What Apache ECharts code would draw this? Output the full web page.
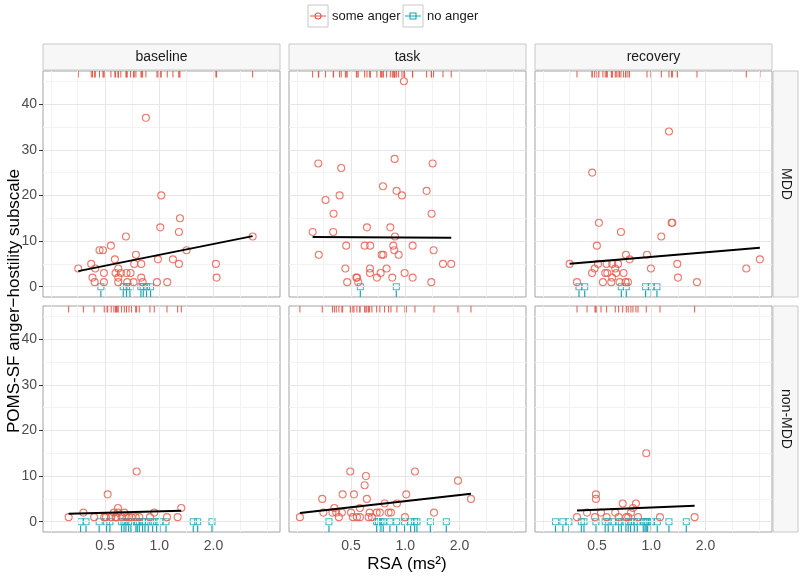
<!DOCTYPE html>
<html><head><meta charset="utf-8">
<script src="https://cdn.jsdelivr.net/npm/echarts@6/dist/echarts.min.js"></script>
<style>html,body{margin:0;padding:0;background:#fff}#c{width:800px;height:578px}</style>
</head><body><div id="c"></div>
<script>
// ---------------- data ----------------
const phases = ['baseline', 'task', 'recovery'];
const groups = ['MDD', 'non-MDD'];
const seriesNames = ['some anger', 'no anger'];
const xTickValues = [0.5, 1, 2];
const yTickValues = [0, 10, 20, 30, 40];
const xGridMajor = [0.5, 1, 2];
const xGridMinor = [0.25, 0.3536, 0.7071, 1.4142, 2.8284, 4];
const yGridMajor = [0, 10, 20, 30, 40];
const yGridMinor = [5, 15, 25, 35, 45];

// [RSA (ms^2), POMS-SF anger-hostility]
const mddBaselineAnger = [[0.355,4],[0.419,5],[0.441,4],[0.426,2],[0.438,1],[0.466,8],[0.487,8],[0.493,3],[0.493,1],[0.539,9],[0.567,6],[0.572,3],[0.592,4],[0.592,2],[0.592,1],[0.612,3],[0.653,11],[0.658,3],[0.664,1],[0.693,3],[0.72,1],[0.726,5],[0.742,7],[0.794,5],[0.794,2],[0.808,1],[0.843,37],[0.971,1],[0.983,6],[1.013,13],[1.026,20],[1.108,1],[1.191,6],[1.286,12],[1.286,5],[1.303,15],[1.418,8],[2.064,5],[2.082,2],[3.30,11]];
const mddBaselineNoAnger = [0.474,0.631,0.658,0.687,0.791,0.815,0.85,0.895];
const mddBaselineFit = [[0.355,3.42],[3.30,11.08]];

const mddTaskAnger = [[0.983,45],[0.329,27],[0.441,26],[0.873,28],[1.419,27],[0.752,22],[0.895,21],[0.959,20],[1.314,21],[0.361,19],[0.432,20],[0.40,16],[1.401,16],[0.306,12],[0.398,12],[0.613,13],[0.826,13],[0.877,11],[0.47,9],[0.595,9],[0.639,9],[0.858,9],[1.099,9],[0.331,7],[0.739,7],[0.755,7],[0.869,8],[0.919,7],[1.437,8],[1.62,5],[1.80,5],[0.465,4],[0.637,4],[0.788,4],[0.637,3],[0.73,3],[0.992,3],[0.535,2],[0.54,2],[0.696,2],[0.847,2],[1.099,2],[0.476,1],[0.548,1],[1.395,1]];
const mddTaskNoAnger = [0.563,0.892];
const mddTaskFit = [[0.306,10.87],[1.80,10.72]];

const mddRecoveryAnger = [[1.254,34],[0.47,25],[0.512,14],[1.297,14],[1.31,14],[0.679,12],[1.137,11],[0.499,9],[0.723,7],[0.947,7],[0.758,6],[4.01,6],[0.352,5],[0.506,5],[0.565,5],[0.607,5],[0.654,5],[1.395,5],[0.485,4],[0.631,4],[0.996,4],[3.37,4],[0.469,3],[0.555,3],[0.57,3],[0.639,3],[0.702,3],[0.607,2],[1.407,2],[0.387,1],[0.539,1],[0.6,1],[0.667,1],[0.72,1],[0.742,1],[1.794,1]];
const mddRecoveryNoAnger = [0.397,0.427,0.682,0.727,0.930,1.0,1.075];
const mddRecoveryFit = [[0.352,5.03],[4.01,8.53]];

const nonBaselineAnger = [[0.314,1],[0.379,2],[0.435,1],[0.517,6],[0.495,1],[0.506,1],[0.541,1],[0.56,2],[0.572,1],[0.579,1],[0.59,3],[0.59,2],[0.618,1],[0.64,2],[0.658,1],[0.679,1],[0.702,1],[0.749,11],[0.74,1],[0.775,1],[0.888,1],[0.938,2],[1.104,1],[1.265,1],[1.325,3]];
const nonBaselineNoAnger = [0.366,0.392,0.464,0.510,0.532,0.618,0.637,0.653,0.676,0.696,0.742,0.755,0.775,0.808,0.833,0.869,0.919,0.967,1.009,1.09,1.545,1.634,1.962];
const nonBaselineFit = [[0.314,1.74],[1.325,2.4]];

const nonTaskAnger = [[0.26,1],[0.346,5],[0.351,2],[0.394,2],[0.404,3],[0.414,2],[0.428,1],[0.445,2],[0.449,6],[0.495,11],[0.5,2],[0.512,1],[0.519,6],[0.539,1],[0.56,3],[0.56,1],[0.595,8],[0.605,10],[0.612,5],[0.626,1],[0.634,2],[0.653,1],[0.694,2],[0.723,2],[0.768,4],[0.808,2],[0.833,2],[0.899,4],[0.996,1],[1.013,6],[1.132,11],[1.444,2],[1.962,9],[2.317,5]];
const nonTaskNoAnger = [0.377,0.694,0.711,0.733,0.755,0.822,0.896,0.992,1.071,1.127,1.161,1.378,1.69];
const nonTaskFit = [[0.26,1.89],[2.317,6.12]];

const nonRecoveryAnger = [[0.938,15],[0.493,6],[0.493,5],[0.694,4],[0.822,4],[0.387,1],[0.44,2],[0.487,1],[0.526,2],[0.565,1],[0.631,2],[0.659,1],[0.727,1],[0.745,1],[0.771,2],[0.791,3],[0.844,1],[1.118,1],[1.741,1]];
const nonRecoveryNoAnger = [0.294,0.323,0.349,0.409,0.423,0.493,0.555,0.577,0.613,0.659,0.682,0.723,0.745,0.768,0.805,0.836,0.903,0.923,0.938,0.955,1.0,1.08,1.254,1.565];
const nonRecoveryFit = [[0.387,2.48],[1.741,3.5]];

// ---------------- layout / style ----------------
const angerSets = [[mddBaselineAnger, mddTaskAnger, mddRecoveryAnger],[nonBaselineAnger, nonTaskAnger, nonRecoveryAnger]];
const noneSets = [[mddBaselineNoAnger, mddTaskNoAnger, mddRecoveryNoAnger],[nonBaselineNoAnger, nonTaskNoAnger, nonRecoveryNoAnger]];
const fitSets = [[mddBaselineFit, mddTaskFit, mddRecoveryFit],[nonBaselineFit, nonTaskFit, nonRecoveryFit]];

const FONT = '"Liberation Sans", Arial, Helvetica, sans-serif';
const RED = '#E5594A', TEAL = '#16A8B2';
const colLeft = [43, 289, 535], rowTop = [71, 306], PW = 237, PH = 226;
const xMin = 0.2262, xMax = 4.682, yMin = -2.25, yMax = 47.25;
const RUG = 6.5;

const grids = [], xAxes = [], yAxes = [], series = [];
let gi = 0;
for (let r = 0; r < 2; r++) {
  for (let c = 0; c < 3; c++) {
    grids.push({left: colLeft[c], top: rowTop[r], width: PW, height: PH, show: true,
      borderColor: '#A3A3A3', borderWidth: 1, backgroundColor: '#fff'});
    xAxes.push({gridIndex: gi, type: 'log', logBase: 2, min: xMin, max: xMax,
      axisLine: {show: false}, splitLine: {show: false},
      axisTick: {show: r === 1, customValues: xTickValues, length: 4, lineStyle: {color: '#333'}},
      axisLabel: {show: r === 1, customValues: xTickValues, fontSize: 14, color: '#4D4D4D', fontFamily: FONT, margin: 7,
        formatter: v => Number(v).toFixed(1)}});
    yAxes.push({gridIndex: gi, type: 'value', min: yMin, max: yMax,
      axisLine: {show: false}, splitLine: {show: false},
      axisTick: {show: c === 0, customValues: yTickValues, length: 4, lineStyle: {color: '#333'}},
      axisLabel: {show: c === 0, customValues: yTickValues, fontSize: 14, color: '#4D4D4D', fontFamily: FONT, margin: 6}});
    const gl = [];
    xGridMinor.forEach(v => gl.push({xAxis: v, lineStyle: {color: '#F3F3F3', width: 1, type: 'solid'}}));
    yGridMinor.forEach(v => gl.push({yAxis: v, lineStyle: {color: '#F3F3F3', width: 1, type: 'solid'}}));
    xGridMajor.forEach(v => gl.push({xAxis: v, lineStyle: {color: '#E6E6E6', width: 1, type: 'solid'}}));
    yGridMajor.forEach(v => gl.push({yAxis: v, lineStyle: {color: '#E6E6E6', width: 1, type: 'solid'}}));
    series.push({type: 'line', xAxisIndex: gi, yAxisIndex: gi, data: [], z: 1, silent: true,
      markLine: {silent: true, symbol: ['none', 'none'], label: {show: false}, animation: false, data: gl}});
    const anger = angerSets[r][c];
    const none = noneSets[r][c].map(x => [x, 0]);
    series.push({type: 'custom', xAxisIndex: gi, yAxisIndex: gi, z: 3, silent: true, data: none,
      renderItem: (params, api) => {
        const cs = params.coordSys; const x = api.coord([api.value(0), api.value(1)])[0];
        return {type: 'line', shape: {x1: x, y1: cs.y + cs.height, x2: x, y2: cs.y + cs.height - RUG}, style: {stroke: TEAL, lineWidth: 1.2}};
      }});
    series.push({type: 'custom', xAxisIndex: gi, yAxisIndex: gi, z: 3, silent: true, data: anger,
      renderItem: (params, api) => {
        const cs = params.coordSys; const x = api.coord([api.value(0), api.value(1)])[0];
        return {type: 'line', shape: {x1: x, y1: cs.y, x2: x, y2: cs.y + RUG}, style: {stroke: RED, lineWidth: 1}};
      }});
    series.push({name: 'no anger', type: 'scatter', xAxisIndex: gi, yAxisIndex: gi, z: 4, data: none,
      symbol: 'rect', symbolSize: 6, itemStyle: {color: 'rgba(255,255,255,0)', borderColor: TEAL, borderWidth: 1.1}});
    series.push({name: 'some anger', type: 'scatter', xAxisIndex: gi, yAxisIndex: gi, z: 5, data: anger,
      symbol: 'circle', symbolSize: 7, itemStyle: {color: 'rgba(255,255,255,0)', borderColor: RED, borderWidth: 1.1}});
    series.push({type: 'line', xAxisIndex: gi, yAxisIndex: gi, z: 6, data: fitSets[r][c], showSymbol: false, silent: true,
      lineStyle: {color: '#000', width: 2}});
    gi++;
  }
}

// ---------------- graphic: strips, titles, legend ----------------
const graphic = [];
phases.forEach((p, c) => {
  graphic.push({type: 'rect', shape: {x: colLeft[c], y: 44, width: PW, height: 26}, style: {fill: '#F7F7F7', stroke: '#C8C8C8', lineWidth: 1}, silent: true});
  graphic.push({type: 'text', x: colLeft[c] + PW / 2, y: 57, style: {text: p, fontSize: 14, fontFamily: FONT, fill: '#1A1A1A', align: 'center', verticalAlign: 'middle'}, silent: true});
});
groups.forEach((g, r) => {
  graphic.push({type: 'rect', shape: {x: 773, y: rowTop[r], width: 25, height: PH}, style: {fill: '#F7F7F7', stroke: '#C8C8C8', lineWidth: 1}, silent: true});
  graphic.push({type: 'text', x: 785.5, y: rowTop[r] + PH / 2, rotation: -Math.PI / 2, style: {text: g, fontSize: 14, fontFamily: FONT, fill: '#1A1A1A', align: 'center', verticalAlign: 'middle'}, silent: true});
});
graphic.push({type: 'text', x: 14, y: 301, rotation: Math.PI / 2, style: {text: 'POMS-SF anger\u2212hostility subscale', fontSize: 17, fontFamily: FONT, fill: '#000', align: 'center', verticalAlign: 'middle'}, silent: true});
graphic.push({type: 'text', x: 407, y: 564, style: {text: 'RSA (ms\u00B2)', fontSize: 17, fontFamily: FONT, fill: '#000', align: 'center', verticalAlign: 'middle'}, silent: true});
// legend (drawn as graphic keys + real text)
const legX = [308, 403], legTextX = [332, 427];
seriesNames.forEach((n, i) => {
  const cx = legX[i] + 10, cy = 16;
  const col = i === 0 ? RED : TEAL;
  graphic.push({type: 'rect', shape: {x: legX[i], y: 5, width: 20, height: 22}, style: {fill: '#fff', stroke: '#C8C8C8', lineWidth: 1}, silent: true});
  graphic.push({type: 'line', shape: {x1: legX[i] + 2, y1: cy, x2: legX[i] + 18, y2: cy}, style: {stroke: col, lineWidth: 1}, silent: true});
  if (i === 0) graphic.push({type: 'circle', shape: {cx: cx, cy: cy, r: 3}, style: {fill: 'rgba(0,0,0,0)', stroke: col, lineWidth: 1.1}, silent: true});
  else graphic.push({type: 'rect', shape: {x: cx - 3, y: cy - 3, width: 6, height: 6}, style: {fill: 'rgba(0,0,0,0)', stroke: col, lineWidth: 1.1}, silent: true});
  graphic.push({type: 'text', x: legTextX[i], y: cy, style: {text: n, fontSize: 13, fontFamily: FONT, fill: '#1A1A1A', align: 'left', verticalAlign: 'middle'}, silent: true});
});

const chart = echarts.init(document.getElementById('c'), null, {renderer: 'canvas'});
chart.setOption({animation: false, backgroundColor: '#fff', grid: grids, xAxis: xAxes, yAxis: yAxes, series: series, graphic: graphic});
</script></body></html>
